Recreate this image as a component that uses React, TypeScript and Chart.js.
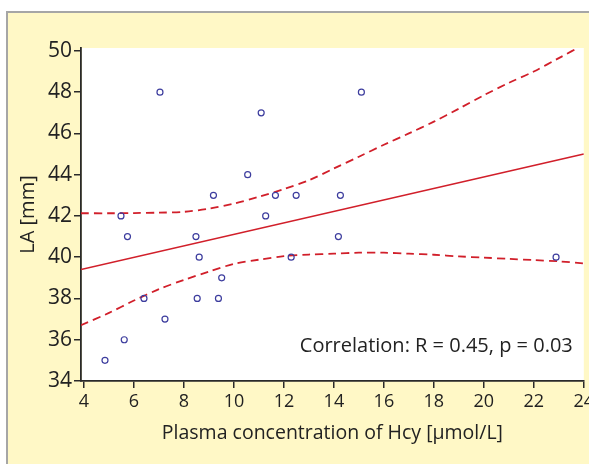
import React, { useEffect, useRef } from "react";
import { Chart, registerables } from "chart.js";

Chart.register(...registerables);

// Scatter data: Plasma Hcy [µmol/L] vs LA [mm]
const hcy = [4.84, 5.61, 5.48, 5.74, 6.4, 7.04, 7.24, 8.48, 8.53, 8.61, 9.18, 9.38, 9.51, 10.55, 11.09, 11.27, 11.66, 12.49, 12.29, 14.18, 14.26, 15.1, 22.89];
const la = [35, 36, 42, 41, 38, 48, 37, 41, 38, 40, 43, 38, 39, 44, 47, 42, 43, 43, 40, 41, 43, 48, 40];

// Regression line end points
const regX = [3.88, 24];
const regY = [39.4, 45.0];

// Confidence band
const bandX = [3.88, 5, 6, 7, 8, 9, 10, 11, 12, 13, 14, 15, 16, 17, 18, 19, 20, 21, 22, 23, 24];
const upperY = [42.13, 42.13, 42.14, 42.16, 42.2, 42.35, 42.6, 42.93, 43.3, 43.73, 44.3, 44.87, 45.45, 46.0, 46.57, 47.2, 47.85, 48.45, 49.0, 49.65, 50.3];
const lowerY = [36.7, 37.3, 37.9, 38.45, 38.9, 39.3, 39.68, 39.88, 40.05, 40.13, 40.17, 40.22, 40.22, 40.17, 40.12, 40.04, 39.98, 39.92, 39.86, 39.8, 39.7];

const xTicks = [4, 6, 8, 10, 12, 14, 16, 18, 20, 22, 24];
const yTicks = [34, 36, 38, 40, 42, 44, 46, 48, 50];

const annotationText = "Correlation: R = 0.45, p = 0.03";
const xTitle = "Plasma concentration of Hcy [µmol/L]";
const yTitle = "LA [mm]";

const FONT = "'Open Sans', 'Noto Sans', sans-serif";
const RED = "#d11f2a";
const AXIS = "#2a2a2a";

export default function App() {
  const ref = useRef<HTMLCanvasElement>(null);

  useEffect(() => {
    const canvas = ref.current!;
    const bgPlugin = {
      id: "whiteArea",
      beforeDraw(chart: any) {
        const { ctx, chartArea } = chart;
        ctx.save();
        ctx.fillStyle = "#ffffff";
        ctx.fillRect(chartArea.left + 1, chartArea.top, chartArea.right - chartArea.left - 1, chartArea.bottom - chartArea.top);
        ctx.restore();
      },
      afterDraw(chart: any) {
        const { ctx, chartArea } = chart;
        ctx.save();
        ctx.font = `20px ${FONT}`;
        ctx.fillStyle = "#222";
        ctx.textAlign = "right";
        ctx.textBaseline = "alphabetic";
        ctx.fillText(annotationText, chartArea.right - 11, chartArea.bottom - 29);
        ctx.restore();
      },
    };

    const chart = new Chart(canvas, {
      type: "scatter",
      data: {
        datasets: [
          {
            label: "points",
            data: hcy.map((x, i) => ({ x, y: la[i] })),
            pointStyle: "circle",
            pointRadius: 3,
            pointBorderWidth: 1.2,
            pointBorderColor: "#3d3d9e",
            pointBackgroundColor: "rgba(255,255,255,0)",
            order: 0,
          } as any,
          {
            type: "line",
            label: "fit",
            data: regX.map((x, i) => ({ x, y: regY[i] })),
            borderColor: RED,
            borderWidth: 1.6,
            pointRadius: 0,
            showLine: true,
            order: 1,
          } as any,
          {
            type: "line",
            label: "upper",
            data: bandX.map((x, i) => ({ x, y: upperY[i] })),
            borderColor: RED,
            borderWidth: 1.8,
            borderDash: [8, 5],
            pointRadius: 0,
            tension: 0.3,
            showLine: true,
            order: 2,
          } as any,
          {
            type: "line",
            label: "lower",
            data: bandX.map((x, i) => ({ x, y: lowerY[i] })),
            borderColor: RED,
            borderWidth: 1.8,
            borderDash: [8, 5],
            pointRadius: 0,
            tension: 0.3,
            showLine: true,
            order: 3,
          } as any,
        ],
      },
      options: {
        animation: false,
        responsive: false,
        devicePixelRatio: 1,
        layout: { padding: { left: 0, right: 3, top: 48, bottom: 0 } },
        plugins: { legend: { display: false }, tooltip: { enabled: false } },
        scales: {
          x: {
            type: "linear",
            min: 3.88,
            max: 24,
            afterBuildTicks: (s: any) => {
              s.ticks = xTicks.map((v) => ({ value: v }));
            },
            afterFit: (s: any) => {
              s.height = 83;
              s.paddingLeft = 0;
              s.paddingRight = 0;
            },
            grid: {
              display: true,
              drawOnChartArea: false,
              drawTicks: true,
              tickLength: 7,
              color: AXIS,
              lineWidth: 1.5,
            },
            border: { display: true, color: AXIS, width: 1.8 },
            ticks: {
              autoSkip: false,
              maxRotation: 0,
              padding: 3,
              color: "#222",
              font: { family: FONT, size: 18 },
            },
            title: {
              display: true,
              text: xTitle,
              color: "#222",
              font: { family: FONT, size: 19.5 },
              padding: { top: 0, bottom: 19 },
            },
          },
          y: {
            type: "linear",
            min: 34,
            max: 50.14,
            afterBuildTicks: (s: any) => {
              s.ticks = yTicks.map((v) => ({ value: v }));
            },
            afterFit: (s: any) => {
              s.width = 81;
              s.paddingTop = 0;
              s.paddingBottom = 0;
            },
            grid: {
              display: true,
              drawOnChartArea: false,
              drawTicks: true,
              tickLength: 7,
              color: AXIS,
              lineWidth: 1.5,
            },
            border: { display: true, color: AXIS, width: 1.8 },
            ticks: {
              autoSkip: false,
              padding: 2,
              color: "#222",
              font: { family: FONT, size: 21 },
            },
            title: {
              display: true,
              text: yTitle,
              color: "#222",
              font: { family: FONT, size: 20 },
              padding: { top: 16, bottom: 0 },
            },
          },
        },
      },
      plugins: [bgPlugin],
    } as any);

    return () => chart.destroy();
  }, []);

  return (
    <div style={{ position: "fixed", left: 0, top: 0, width: 589, height: 464, overflow: "hidden", background: "#ffffff" }}>
      <div
        style={{
          position: "absolute",
          left: 6,
          top: 11,
          right: 0,
          bottom: 0,
          background: "#fff8c6",
          borderLeft: "2px solid #a6a6a6",
          borderTop: "2px solid #a6a6a6",
        }}
      />
      <canvas ref={ref} width={589} height={464} style={{ position: "absolute", left: 0, top: 0, width: 589, height: 464 }} />
    </div>
  );
}
